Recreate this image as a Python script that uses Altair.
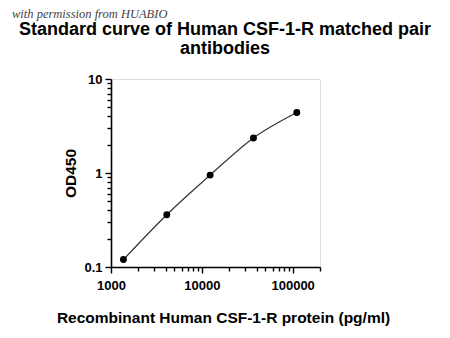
import altair as alt
import pandas as pd

# data
conc = [1371, 4115, 12346, 37037, 111111]
od450 = [0.12, 0.36, 0.95, 2.36, 4.4]

x_ticks = [1000, 2000, 3000, 4000, 5000, 6000, 7000, 8000, 9000,
           10000, 20000, 30000, 40000, 50000, 60000, 70000, 80000, 90000,
           100000, 200000]
y_ticks = [0.1, 0.2, 0.3, 0.4, 0.5, 0.6, 0.7, 0.8, 0.9,
           1, 2, 3, 4, 5, 6, 7, 8, 9, 10]
x_labels = ["1000", "10000", "100000"]
y_labels = ["0.1", "1", "10"]

title_line1 = "Standard curve of Human CSF-1-R matched pair"
title_line2 = "antibodies"
x_title = "Recombinant Human CSF-1-R protein (pg/ml)"
y_title = "OD450"
watermark = "with permission from HUABIO"

df = pd.DataFrame({"conc": conc, "od": od450})

FONT = "Liberation Sans"

x_enc = alt.X(
    "conc:Q",
    scale=alt.Scale(type="log", domain=[1000, 200000], nice=False),
    axis=alt.Axis(
        values=x_ticks,
        format="d",
        labelExpr="indexof(" + str(x_labels) + ", datum.label) >= 0 ? datum.label : ''",
        grid=False,
        domainColor="black",
        domainWidth=1.6,
        tickColor="black",
        tickWidth=1.4,
        tickSize={"condition": {"test": "datum.value == 1000 || datum.value == 10000 || datum.value == 100000", "value": 6}, "value": 4},
        labelFont=FONT,
        labelFontSize=13,
        labelFontWeight="bold",
        labelColor="black",
        labelPadding=6,
        labelFlush=False,
        labelOverlap=False,
        title=x_title,
        titleFont=FONT,
        titleFontSize=15.5,
        titleFontWeight="bold",
        titleColor="black",
        titleX=112,
        titleY=55,
        titleAlign="center",
        titleBaseline="alphabetic",
    ),
)

y_enc = alt.Y(
    "od:Q",
    scale=alt.Scale(type="log", domain=[0.1, 10], nice=False),
    axis=alt.Axis(
        values=y_ticks,
        format="~g",
        labelExpr="indexof(" + str(y_labels) + ", datum.label) >= 0 ? datum.label : ''",
        grid=False,
        domainColor="black",
        domainWidth=1.6,
        tickColor="black",
        tickWidth=1.4,
        tickSize={"condition": {"test": "datum.value == 0.1 || datum.value == 1 || datum.value == 10", "value": 6}, "value": 4},
        labelFont=FONT,
        labelFontSize=13,
        labelFontWeight="bold",
        labelColor="black",
        labelPadding=3,
        labelFlush=False,
        labelOverlap=False,
        title=y_title,
        titleFont=FONT,
        titleFontSize=15.5,
        titleFontWeight="bold",
        titleColor="black",
        titleX=-36,
        titleY=94,
        titleAngle=-90,
        titleAlign="center",
        titleBaseline="alphabetic",
    ),
)

base = alt.Chart(df)

line = base.mark_line(color="#333333", strokeWidth=1.2, interpolate="monotone").encode(x=x_enc, y=y_enc)
points = base.mark_circle(color="black", size=48, opacity=1).encode(x="conc:Q", y="od:Q")

texts = pd.DataFrame({"t": [title_line1, title_line2]})
title1 = alt.Chart(pd.DataFrame({"t": [title_line1]})).mark_text(
    font=FONT, fontSize=18, fontWeight="bold", color="black",
    align="center", baseline="alphabetic"
).encode(text="t:N", x=alt.value(114), y=alt.value(-44.5))
title2 = alt.Chart(pd.DataFrame({"t": [title_line2]})).mark_text(
    font=FONT, fontSize=18, fontWeight="bold", color="black",
    align="center", baseline="alphabetic"
).encode(text="t:N", x=alt.value(114), y=alt.value(-25.5))

wm = alt.Chart(pd.DataFrame({"t": [watermark]})).mark_text(
    font="Liberation Serif", fontStyle="italic", fontSize=12.5, color="#444444",
    align="left", baseline="alphabetic"
).encode(text="t:N", x=alt.value(-99), y=alt.value(-61))

chart = alt.layer(line, points, title1, title2, wm).properties(
    width=209,
    height=188,
    autosize=alt.AutoSizeParams(type="none"),
    padding={"left": 111, "top": 79, "right": 130, "bottom": 71},
).configure_view(stroke=None).configure(background="white")

chart.save("out.html", embed_options={"renderer": "svg", "actions": False})
